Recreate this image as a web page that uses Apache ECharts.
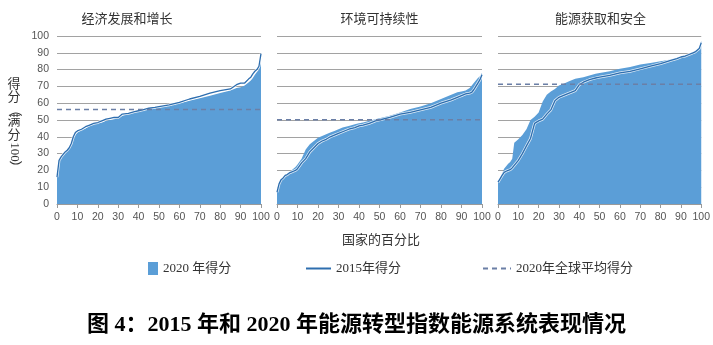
<!DOCTYPE html>
<html><head><meta charset="utf-8">
<script src="https://cdn.jsdelivr.net/npm/echarts@6/dist/echarts.min.js"></script>
<style>html,body{margin:0;padding:0;background:#fff}#c{width:713px;height:345px}</style>
</head><body><div id="c"></div>
<script>
// Percentile of countries (x positions where values were read)
const pct = [0,1,2,3,4,5,6,7,8,9,10,12,14,16,18,20,22,24,26,28,30,32,35,38,40,42,45,48,50,55,60,65,70,75,80,85,88,90,92,94,95,96,97,98,99,100];

// 经济发展和增长
const econ2020 = [16,26,28,29.5,30.5,32,33.5,35.5,39,41,42.5,44,45,46.5,47.5,48,48.5,49.5,50,50.5,51,52.5,53.5,54.5,55,55.5,56.5,57,57.5,58.5,60,61.5,63,64.5,66,67.5,69,69.5,70.5,72.5,73.5,75,77,78.5,80,85];
const econ2015 = [16,26,28,29.5,31,32,33.5,36,40,42.5,43.5,44.5,46,47,48,48.5,49.5,50.5,51,51.5,51.5,53.5,54,55,55.5,56,57,57.5,58,59,60.5,62.5,64,66,67.5,68.5,71,72,72,74.5,75.5,77.5,79,80,82,89.5];

// 环境可持续性
const env2020 = [7,12,14.5,16,17,18,19,20,21,22,23.5,27,32.5,35.5,37.5,39.5,40.5,41.5,42.5,43.5,44.5,45.5,46.5,47.5,48,48.5,49.5,50.5,51,52.5,54.5,56.5,58,60,62.5,65,66.5,67,67.5,69,70.5,72,73.5,75,76,78];
const env2015 = [7,12,14.5,15.5,17,17.5,18.5,19,19.5,20,21,24.5,27,31,33.5,36,37.5,38.5,40,41,42,43,44.5,45.5,46.5,47,48,49.5,50,51.5,53.5,54.5,56,57.5,60,62,63.5,64.5,65.5,66,66.5,68,70,72,74,77];

// 能源获取和安全
const acc2020 = [13.4,15.5,18,21,22.5,24,25,27,36.5,37.5,38.5,41,44.5,50,52,54.5,61,65,67,68.5,70.5,71.5,73,74.5,75,75.5,76.5,77.5,78,79,80.5,81.5,83,84,85,86,87,88,88.5,89.5,90,90.5,91,92,93.5,97];
const acc2015 = [13,15,17,18.8,19.5,20,20.4,21.5,23,24.5,26,30,34.6,39,48,49.5,50.5,53.5,56,61.5,63.5,64.5,66,67.5,71,72.5,74,75,75.5,76.5,78,79,80.5,82,83.5,85.5,86.5,87.5,88,89,89.5,90,90.5,91.5,92.5,96];

// 2020年全球平均得分 per panel
const avg2020 = [56.3, 50.1, 71.3];

const panelTitles = ['经济发展和增长','环境可持续性','能源获取和安全'];
const xTicks = [0,10,20,30,40,50,60,70,80,90,100];
const yTicks = [0,10,20,30,40,50,60,70,80,90,100];
const names = {a:'2020 年得分', l:'2015年得分', d:'2020年全球平均得分'};

const panels = [[econ2020,econ2015],[env2020,env2015],[acc2020,acc2015]];
const grids = [
  {left:57, top:36, width:204, height:168},
  {left:277, top:36, width:205, height:168},
  {left:498, top:36, width:205, height:168}
];
const AREA='#5b9ed7', LINE='#2e6eaf', DASH='#6b7fa6';
const tickFont = 'Liberation Sans, Arial, sans-serif';
const serifFont = '"Liberation Serif","Noto Sans CJK SC",serif';

const xAxis = [], yAxis = [], series = [];
panels.forEach((p,i)=>{
  xAxis.push({
    type:'value', gridIndex:i, min:xTicks[0], max:xTicks[xTicks.length-1], interval:xTicks[1]-xTicks[0],
    axisLine:{show:true, lineStyle:{color:'#9a9a9a', width:1}},
    axisTick:{show:true, length:4, lineStyle:{color:'#9a9a9a'}},
    axisLabel:{fontSize:10.5, color:'#555', margin:8, fontFamily:tickFont},
    splitLine:{show:false}
  });
  yAxis.push({
    type:'value', gridIndex:i, min:yTicks[0], max:yTicks[yTicks.length-1], interval:yTicks[1]-yTicks[0],
    axisLine:{show:false}, axisTick:{show:false},
    axisLabel:{show:i===0, fontSize:10.5, color:'#555', margin:8, fontFamily:tickFont},
    splitLine:{show:true, lineStyle:{color:'#a2a2a2', width:1}}
  });
  const aData = pct.map((x,k)=>[x,p[0][k]]);
  const lData = pct.map((x,k)=>[x,p[1][k]]);
  series.push({
    name:names.a, type:'line', xAxisIndex:i, yAxisIndex:i, data:aData,
    showSymbol:false, symbol:'none', lineStyle:{width:0}, itemStyle:{color:AREA},
    areaStyle:{color:AREA, opacity:1}, z:1, animation:false
  });
  series.push({
    name:'halo'+i, type:'line', xAxisIndex:i, yAxisIndex:i, data:lData,
    symbol:'none', lineStyle:{width:2.8, color:'rgba(255,255,255,0.8)'}, z:2, animation:false, silent:true
  });
  series.push({
    name:names.l, type:'line', xAxisIndex:i, yAxisIndex:i, data:lData,
    symbol:'none', lineStyle:{width:1.3, color:LINE}, itemStyle:{color:LINE}, z:3, animation:false
  });
  series.push({
    name:names.d, type:'line', xAxisIndex:i, yAxisIndex:i,
    data:[[xTicks[0],avg2020[i]],[xTicks[xTicks.length-1],avg2020[i]]],
    symbol:'none', lineStyle:{width:1.5, color:DASH, type:[5,4]}, itemStyle:{color:DASH}, z:4, animation:false
  });
});

const txt = (t, x, y, extra) => Object.assign({type:'text', x:x, y:y,
  style:{text:t, fontSize:13, fill:'#333', fontFamily:serifFont, align:'center', verticalAlign:'middle'}}, extra||{});
const graphic = [];
panelTitles.forEach((t,i)=>{
  graphic.push(txt(t, grids[i].left+grids[i].width/2 - (i===0?32:0), 20));
});
graphic.push(txt('国家的百分比', 381, 241));
// vertical y-axis title 得分（满分100）
graphic.push(txt('得', 14, 85));
graphic.push(txt('分', 14, 98));
graphic.push(txt('（', 14, 110, {rotation:-Math.PI/2}));
graphic.push(txt('满', 14, 122));
graphic.push(txt('分', 14, 136));
graphic.push(txt('100', 14, 152, {rotation:-Math.PI/2}));
graphic.push(txt('）', 14, 167, {rotation:-Math.PI/2}));

const legendBase = {top:257, itemGap:10, textStyle:{fontSize:13, color:'#333', fontFamily:serifFont}};
const option = {
  animation:false,
  backgroundColor:'#fff',
  title:{text:'图 4：2015 年和 2020 年能源转型指数能源系统表现情况', left:'center', top:309,
    textStyle:{fontSize:22, fontWeight:'bold', color:'#000', fontFamily:serifFont}},
  legend:[
    Object.assign({}, legendBase, {left:143, data:[{name:names.a, icon:'rect'}], itemWidth:10, itemHeight:13}),
    Object.assign({}, legendBase, {left:300, data:[names.l], itemWidth:25, itemHeight:10, itemStyle:{opacity:0}}),
    Object.assign({}, legendBase, {left:477, data:[names.d], itemWidth:28, itemHeight:10, itemStyle:{opacity:0}})
  ],
  grid:grids, xAxis, yAxis, series, graphic
};
const chart = echarts.init(document.getElementById('c'), null, {renderer:'canvas'});
chart.setOption(option);
</script></body></html>
